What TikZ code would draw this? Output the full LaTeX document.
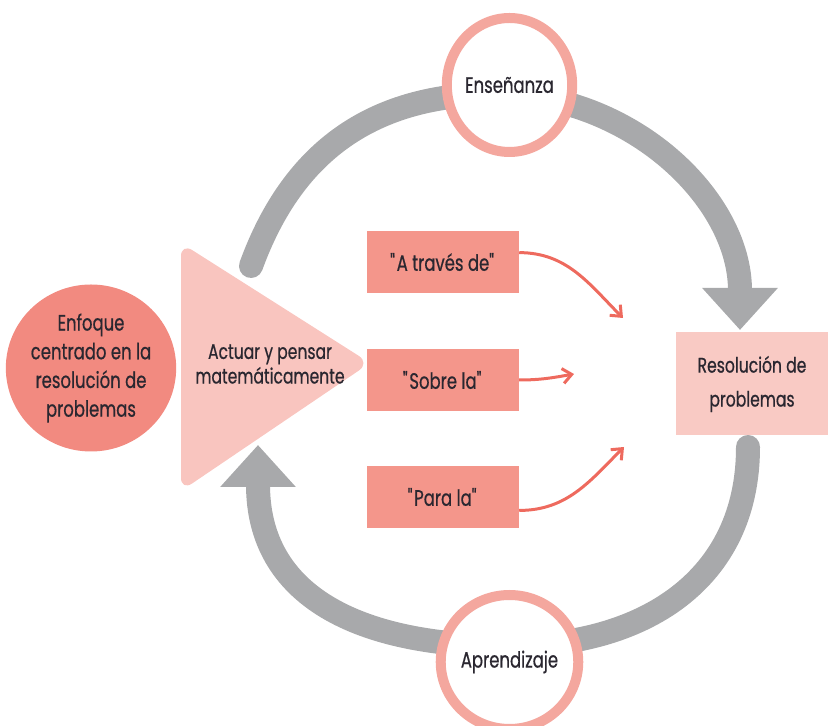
\documentclass[tikz,border=0pt]{standalone}
\usepackage{fontspec}
\setmainfont[FakeStretch=0.74, FakeBold=0.6]{Poppins}
\usetikzlibrary{shapes.geometric,arrows.meta,backgrounds}

\definecolor{focusred}{HTML}{F28A80}
\definecolor{wedgepink}{HTML}{F9C5BF}
\definecolor{boxsalmon}{HTML}{F4968B}
\definecolor{goalpink}{HTML}{F9CAC4}
\definecolor{ringpink}{HTML}{F4A79E}
\definecolor{arcgray}{HTML}{A8A9AB}
\definecolor{linkred}{HTML}{EE6A5E}
\definecolor{ink}{HTML}{2A2730}

\def\ux{0.03cm}

\begin{document}
\begin{tikzpicture}[x=\ux,y=\ux, font=\fontsize{19}{24}\selectfont, text=ink,
    box/.style={fill=boxsalmon, minimum width=152*\ux, minimum height=62*\ux, inner sep=0pt},
    ring/.style={ellipse, draw=ringpink, line width=10*\ux, fill=white,
      minimum width=125*\ux, minimum height=134*\ux, inner sep=0pt},
    cycle/.style={draw=arcgray, line width=24*\ux, line cap=round},
    bigtip/.style={-{Triangle[width=2.19cm, length=1.26cm]}},
    link/.style={draw=linkred, line width=3*\ux, -{Straight Barb[length=0.27cm, width=0.45cm]}}]
  \useasboundingbox (0,0) rectangle (828,726);

  % left: focus and wedge
  \node[ellipse, fill=focusred, minimum width=155*\ux, minimum height=167*\ux, inner sep=0pt,
    align=center, font=\fontsize{19}{24.5}\selectfont] (focus) at (91,358)
    {Enfoque\\centrado en la\\resolución de\\problemas};
  \fill[wedgepink, rounded corners=0.4cm] (181,483) -- (370,363) -- (181,235) -- cycle;
  \node[align=center, font=\fontsize{18}{21}\selectfont] (act) at (270,362)
    {Actuar y pensar\\matemáticamente};

  % middle boxes
  \foreach \nm/\yy/\txt in {boxA/464/{A través de}, boxB/346/{Sobre la}, boxC/229/{Para la}}{
    \node[box] (\nm) at (443,\yy) {\textquotedbl\txt\textquotedbl};
  }

  \node[fill=goalpink, minimum width=152*\ux, minimum height=103*\ux, inner sep=0pt,
    align=center, font=\fontsize{18}{29}\selectfont] (goal) at (752,342)
    {Resolución de\\problemas};

  \node[ring] (ens) at (509.5,641) {Enseñanza};
  \node[ring] (apr) at (509.5,64) {Aprendizaje};

  \coordinate (topstart) at (251,460);
  \coordinate (toppeak) at (497,632);
  \coordinate (toptip) at (740,396);
  \coordinate (botstart) at (748,279);
  \coordinate (botlow) at (509,80);
  \coordinate (bottip) at (258,281);

  \begin{scope}[on background layer]
    \draw[cycle, bigtip] (topstart) to[out=70,in=180,looseness=1.05] (toppeak)
      to[out=0,in=90] (toptip);
    \draw[cycle, bigtip] (botstart) to[out=-90,in=0,looseness=1.1] (botlow)
      to[out=180,in=-90,looseness=1.2] (bottip);
  \end{scope}

  % red links
  \coordinate (ea) at (623,408);
  \coordinate (eb) at (574,352);
  \coordinate (ec) at (624,279);
  \draw[link] (boxA.7) to[out=0,in=135] (ea);
  \draw[link] (boxB.east) to[out=0,in=190] (eb);
  \draw[link] (boxC.-10) to[out=0,in=-135] (ec);
\end{tikzpicture}
\end{document}
